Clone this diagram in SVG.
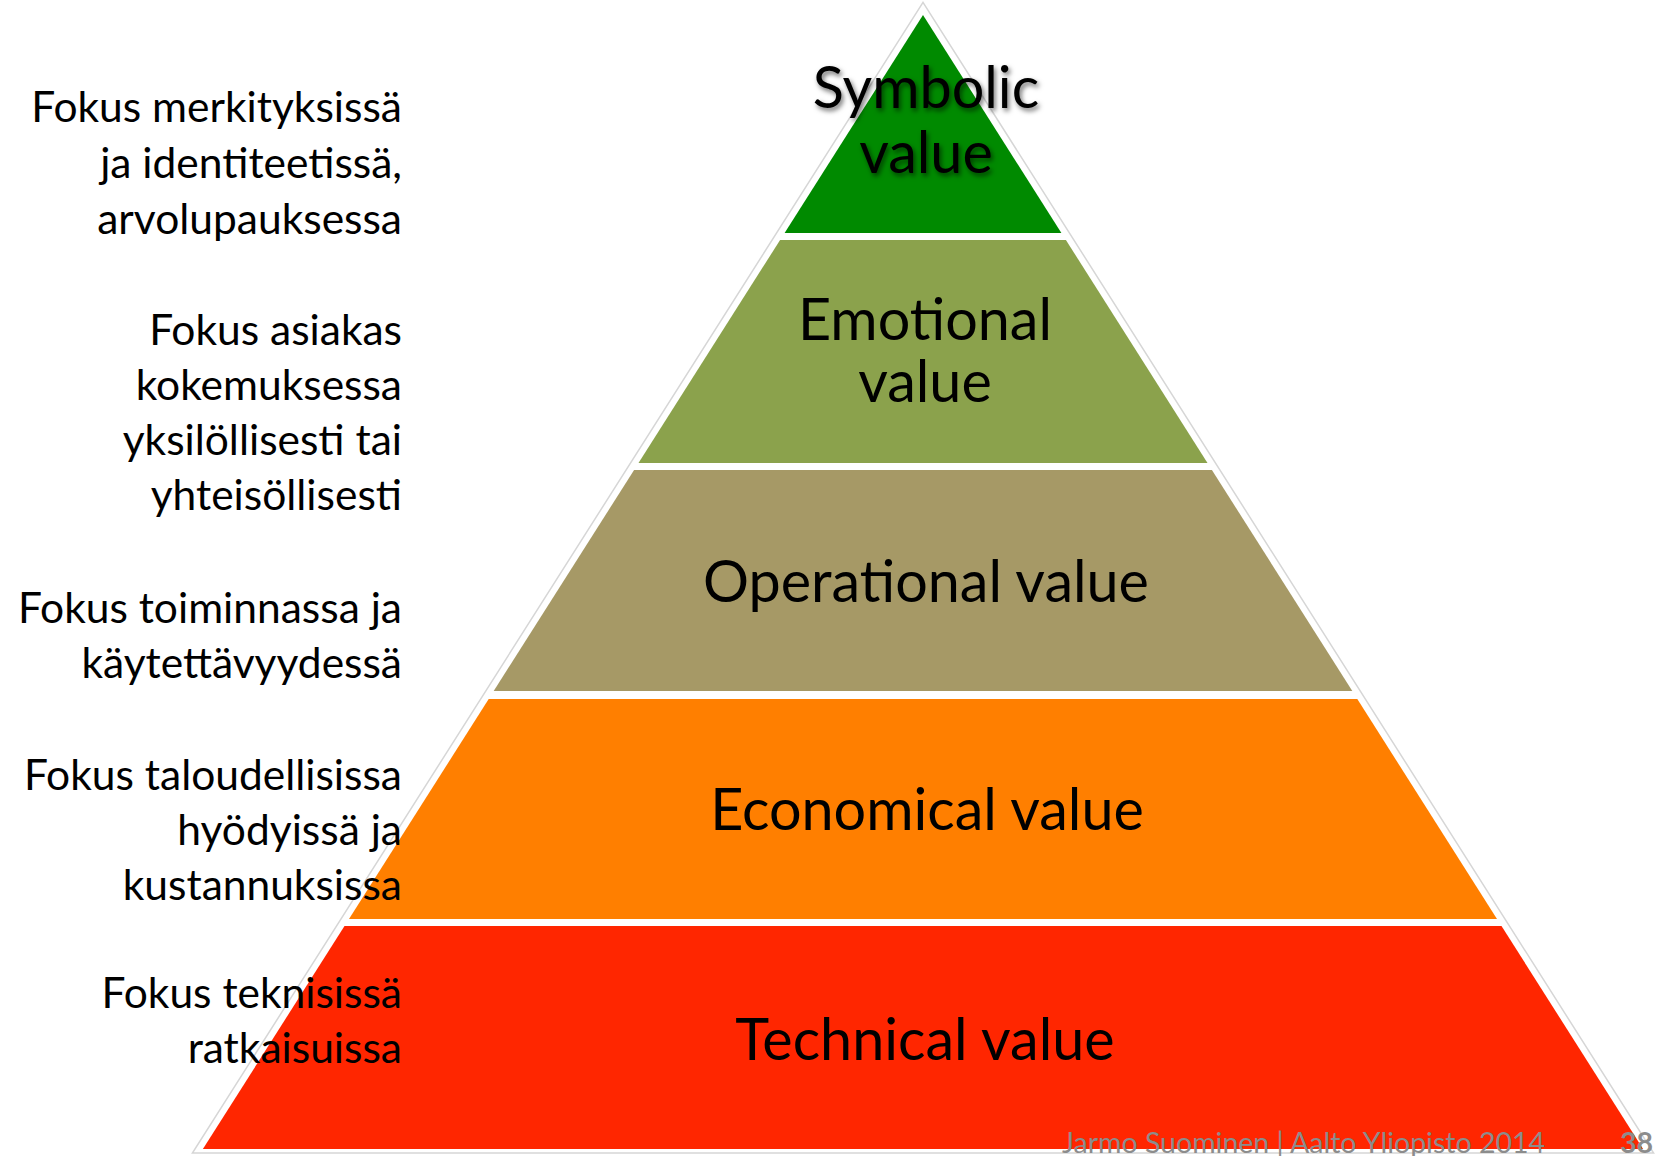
<svg xmlns="http://www.w3.org/2000/svg" width="1660" height="1156" viewBox="0 0 1660 1156">
  <defs>
    <filter id="shadow" x="-10%" y="-20%" width="120%" height="150%">
      <feDropShadow dx="2" dy="3" stdDeviation="2.5" flood-color="#000" flood-opacity="0.55"/>
    </filter>
  </defs>
  <style>
    .layer-label { font-family: Lato, "Open Sans", "Liberation Sans", sans-serif; font-size: 57.5px; fill: #000; text-anchor: middle; }
    .side { font-family: Lato, "Open Sans", "Liberation Sans", sans-serif; font-size: 42.5px; fill: #000; text-anchor: end; }
    .footer { font-family: Lato, "Open Sans", "Liberation Sans", sans-serif; font-size: 28.5px; fill: #8c8c8c; }
    .outline { fill: #fff; stroke: #d6d6d6; stroke-width: 1.5; }
  </style>
  <rect x="0" y="0" width="1660" height="1156" fill="#fff"/>
  <polygon class="outline" points="923,2.4 1653.6,1153 192.4,1153"/>

  <g id="symbolic">
    <polygon points="923,15 1061.4,233 784.6,233" fill="#008A00"/>
    <g filter="url(#shadow)">
      <text class="layer-label" x="926" y="108">Symbolic</text>
      <text class="layer-label" x="926" y="173">value</text>
    </g>
  </g>
  <g id="emotional">
    <polygon points="780.1,240 1065.9,240 1207.5,463 638.5,463" fill="#8BA24C"/>
    <text class="layer-label" x="925" y="340">Emotional</text>
    <text class="layer-label" x="925" y="402">value</text>
  </g>
  <g id="operational">
    <polygon points="634.1,470 1211.9,470 1352.3,691 493.7,691" fill="#A69966"/>
    <text class="layer-label" x="926" y="602">Operational value</text>
  </g>
  <g id="economical">
    <polygon points="488.7,699 1357.3,699 1497,919 349,919" fill="#FF7F00"/>
    <text class="layer-label" x="927" y="830">Economical value</text>
  </g>
  <g id="technical">
    <polygon points="344.5,926 1501.5,926 1643.1,1149 202.9,1149" fill="#FF2600"/>
    <text class="layer-label" x="925" y="1060">Technical value</text>
  </g>

  <g id="label-symbolic">
    <text class="side" x="402" y="122">Fokus merkityksissä</text>
    <text class="side" x="402" y="178">ja identiteetissä,</text>
    <text class="side" x="402" y="234">arvolupauksessa</text>
  </g>
  <g id="label-emotional">
    <text class="side" x="402" y="345">Fokus asiakas</text>
    <text class="side" x="402" y="400">kokemuksessa</text>
    <text class="side" x="402" y="455">yksilöllisesti tai</text>
    <text class="side" x="402" y="510">yhteisöllisesti</text>
  </g>
  <g id="label-operational">
    <text class="side" x="402" y="623">Fokus toiminnassa ja</text>
    <text class="side" x="402" y="678">käytettävyydessä</text>
  </g>
  <g id="label-economical">
    <text class="side" x="402" y="790">Fokus taloudellisissa</text>
    <text class="side" x="402" y="845">hyödyissä ja</text>
    <text class="side" x="402" y="900">kustannuksissa</text>
  </g>
  <g id="label-technical">
    <text class="side" x="402" y="1008">Fokus teknisissä</text>
    <text class="side" x="402" y="1063">ratkaisuissa</text>
  </g>

  <g id="footer">
    <text class="footer" x="1062" y="1153">Jarmo Suominen | Aalto Yliopisto 2014</text>
    <text class="footer" x="1653" y="1153" text-anchor="end" font-weight="bold" fill="#777">38</text>
  </g>
</svg>
